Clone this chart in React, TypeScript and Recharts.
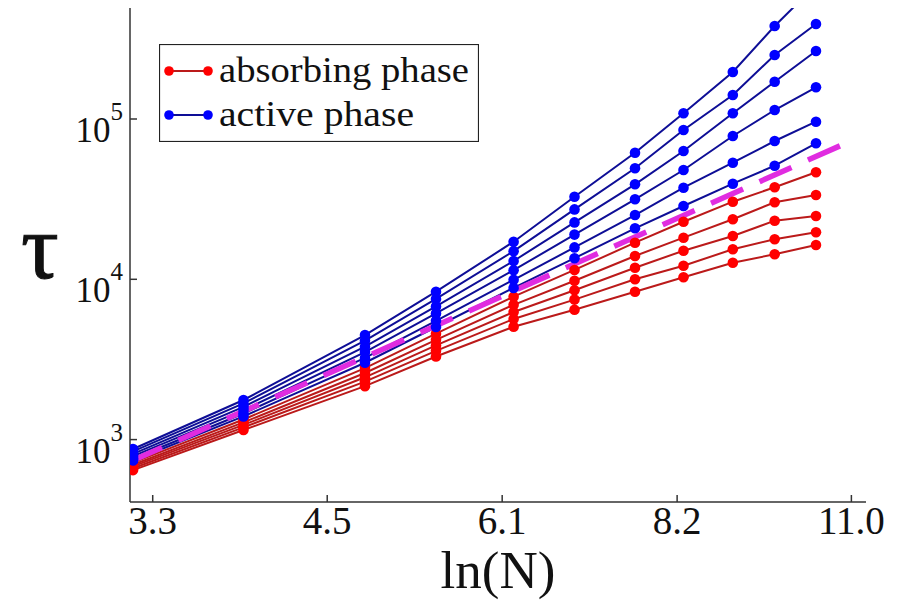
import { LineChart, Line, XAxis, YAxis, Legend } from "recharts";

// ln(N) of each system size (log-spaced x axis)
const lnN = [3.21, 3.88, 4.78, 5.4, 6.17, 6.85, 7.6, 8.26, 8.99, 9.66, 10.37];

// absorbing phase curves, top to bottom
const absorbing1 = [718, 1335, 2793, 4580, 7790, 11440, 16920, 22870, 30490, 37490, 46500];
const absorbing2 = [697, 1281, 2603, 4190, 6930, 9800, 13980, 18180, 23680, 30220, 33560];
const absorbing3 = [680, 1235, 2447, 3870, 6250, 8550, 11810, 15080, 18630, 23210, 24820];
const absorbing4 = [662, 1192, 2300, 3580, 5650, 7470, 10000, 12150, 15390, 17770, 19650];
const absorbing5 = [645, 1147, 2154, 3300, 5060, 6460, 8370, 10290, 12690, 14320, 16370];

// active phase curves, top to bottom
const active1 = [874, 1766, 4490, 8370, 17160, 32750, 61630, 108500, 196500, 380400, 685000];
const active2 = [844, 1682, 4140, 7540, 14980, 27300, 49270, 85390, 141100, 250700, 391400];
const active3 = [815, 1600, 3800, 6770, 13010, 22650, 39140, 63150, 108500, 170900, 265600];
const active4 = [789, 1528, 3515, 6120, 11400, 19000, 31560, 48060, 78340, 113800, 157700];
const active5 = [762, 1455, 3233, 5510, 9930, 15810, 25180, 37270, 53380, 72900, 96200];
const active6 = [741, 1395, 3015, 5040, 8840, 13540, 20810, 28660, 39480, 51130, 70550];

// dashed separatrix
const separatorLnN = [3.193, 10.84];
const separatorTau = [728, 68800];

const xTicks = [3.32, 4.48, 6.05, 8.17, 11.02];
const xTickLabels = ["3.3", "4.5", "6.1", "8.2", "11.0"];
const yTicks = [1000, 10000, 100000];
const legendLabels = ["absorbing phase", "active phase"];

const absorbingSeries = [absorbing1, absorbing2, absorbing3, absorbing4, absorbing5];
const activeSeries = [active1, active2, active3, active4, active5, active6];

const rows = lnN.map((x, i) => {
  const row: Record<string, number> = { lnN: x };
  absorbingSeries.forEach((s, k) => (row[`abs${k}`] = s[i]));
  activeSeries.forEach((s, k) => (row[`act${k}`] = s[i]));
  return row;
});

const separatorData = separatorLnN.map((x, i) => ({ lnN: x, tau: separatorTau[i] }));

const FONT = "Liberation Serif";
const RED_LINE = "#bb1a1a";
const RED_DOT = "#ff0000";
const BLUE_LINE = "#0e0e96";
const BLUE_DOT = "#0000ff";

const XTick = (props: any) => {
  const { x, y, payload } = props;
  const label = xTickLabels[xTicks.indexOf(payload.value)];
  return (
    <text x={x} y={y} textAnchor="middle" fontFamily={FONT} fontSize={39} fill="#111">
      {label}
    </text>
  );
};

const YTick = (props: any) => {
  const { x, y, payload } = props;
  const exp = Math.round(Math.log10(payload.value));
  return (
    <text x={x} y={y + 23} textAnchor="end" fontFamily={FONT} fontSize={35} fill="#111">
      10
      <tspan dy={-22} fontSize={25}>
        {exp}
      </tspan>
    </text>
  );
};

const renderLegend = () => (
  <svg width={320} height={98}>
    <rect x={0.5} y={0.5} width={319} height={97} fill="#fff" stroke="#222" strokeWidth={1.2} />
    {[RED_LINE, BLUE_LINE].map((c, i) => {
      const cy = 27 + i * 44;
      const dot = i === 0 ? RED_DOT : BLUE_DOT;
      return (
        <g key={i}>
          <line x1={10} x2={49} y1={cy} y2={cy} stroke={c} strokeWidth={2} />
          <circle cx={10} cy={cy} r={4.8} fill={dot} />
          <circle cx={49} cy={cy} r={4.8} fill={dot} />
          <text
            x={60}
            y={cy + 11}
            fontFamily={FONT}
            fontSize={35}
            fill="#111"
            textLength={i === 0 ? 250 : 195}
            lengthAdjust="spacingAndGlyphs"
          >
            {legendLabels[i]}
          </text>
        </g>
      );
    })}
  </svg>
);

export default function App() {
  return (
    <div style={{ position: "absolute", left: 0, top: 0, background: "#fff" }}>
      <LineChart
        width={903}
        height={600}
        data={rows}
        margin={{ top: 8, right: 37, bottom: 0, left: 30 }}
      >
        <XAxis
          xAxisId="b"
          dataKey="lnN"
          type="number"
          scale="log"
          domain={[3.193, 11.3]}
          allowDataOverflow
          ticks={xTicks}
          tickSize={-7}
          tickMargin={39}
          height={98}
          tick={XTick}
          stroke="#333"
          strokeWidth={1.5}
          label={(p: any) => (
            <text
              x={p.viewBox.x + p.viewBox.width / 2}
              y={p.viewBox.y + 86}
              textAnchor="middle"
              fontFamily={FONT}
              fontSize={53}
              fill="#111"
            >
              ln(N)
            </text>
          )}
        />
        <XAxis
          xAxisId="t"
          orientation="top"
          dataKey="lnN"
          type="number"
          scale="log"
          domain={[3.193, 11.3]}
          allowDataOverflow
          ticks={xTicks}
          tickSize={-7}
          height={0}
          tick={() => null}
          stroke="#333"
          strokeWidth={1.5}
        />
        <YAxis
          yAxisId="l"
          type="number"
          scale="log"
          domain={[408, 492600]}
          allowDataOverflow
          ticks={yTicks}
          tickSize={-7}
          tickMargin={14}
          width={100}
          tick={YTick}
          stroke="#333"
          strokeWidth={1.5}
          label={(p: any) => (
            <text
              x={p.viewBox.x + 10}
              y={278}
              textAnchor="middle"
              fontFamily={FONT}
              fontSize={94}
              fill="#111"
              stroke="#111"
              strokeWidth={1}
            >
              τ
            </text>
          )}
        />
        <YAxis
          yAxisId="r"
          orientation="right"
          type="number"
          scale="log"
          domain={[408, 492600]}
          allowDataOverflow
          ticks={yTicks}
          tickSize={-7}
          width={0}
          tick={() => null}
          stroke="#333"
          strokeWidth={1.5}
        />
        <Legend
          content={renderLegend}
          layout="horizontal"
          verticalAlign="middle"
          align="center"
          wrapperStyle={{ left: 159, top: 44, width: 320, height: 98 }}
        />
        {absorbingSeries.map((_, k) => (
          <Line
            key={`abs${k}`}
            xAxisId="b"
            yAxisId="l"
            dataKey={`abs${k}`}
            stroke={RED_LINE}
            strokeWidth={2}
            dot={{ r: 5.3, fill: RED_DOT, stroke: RED_DOT, strokeWidth: 0 }}
            activeDot={false}
            isAnimationActive={false}
          />
        ))}
        {activeSeries.map((_, k) => (
          <Line
            key={`act${k}`}
            xAxisId="b"
            yAxisId="l"
            dataKey={`act${k}`}
            stroke={BLUE_LINE}
            strokeWidth={2}
            dot={{ r: 5.3, fill: BLUE_DOT, stroke: BLUE_DOT, strokeWidth: 0 }}
            activeDot={false}
            isAnimationActive={false}
          />
        ))}
        <Line
          xAxisId="b"
          yAxisId="l"
          data={separatorData}
          dataKey="tau"
          stroke="#e02ce0"
          strokeWidth={5.5}
          strokeDasharray="35 18"
          dot={false}
          activeDot={false}
          isAnimationActive={false}
        />
      </LineChart>
    </div>
  );
}
